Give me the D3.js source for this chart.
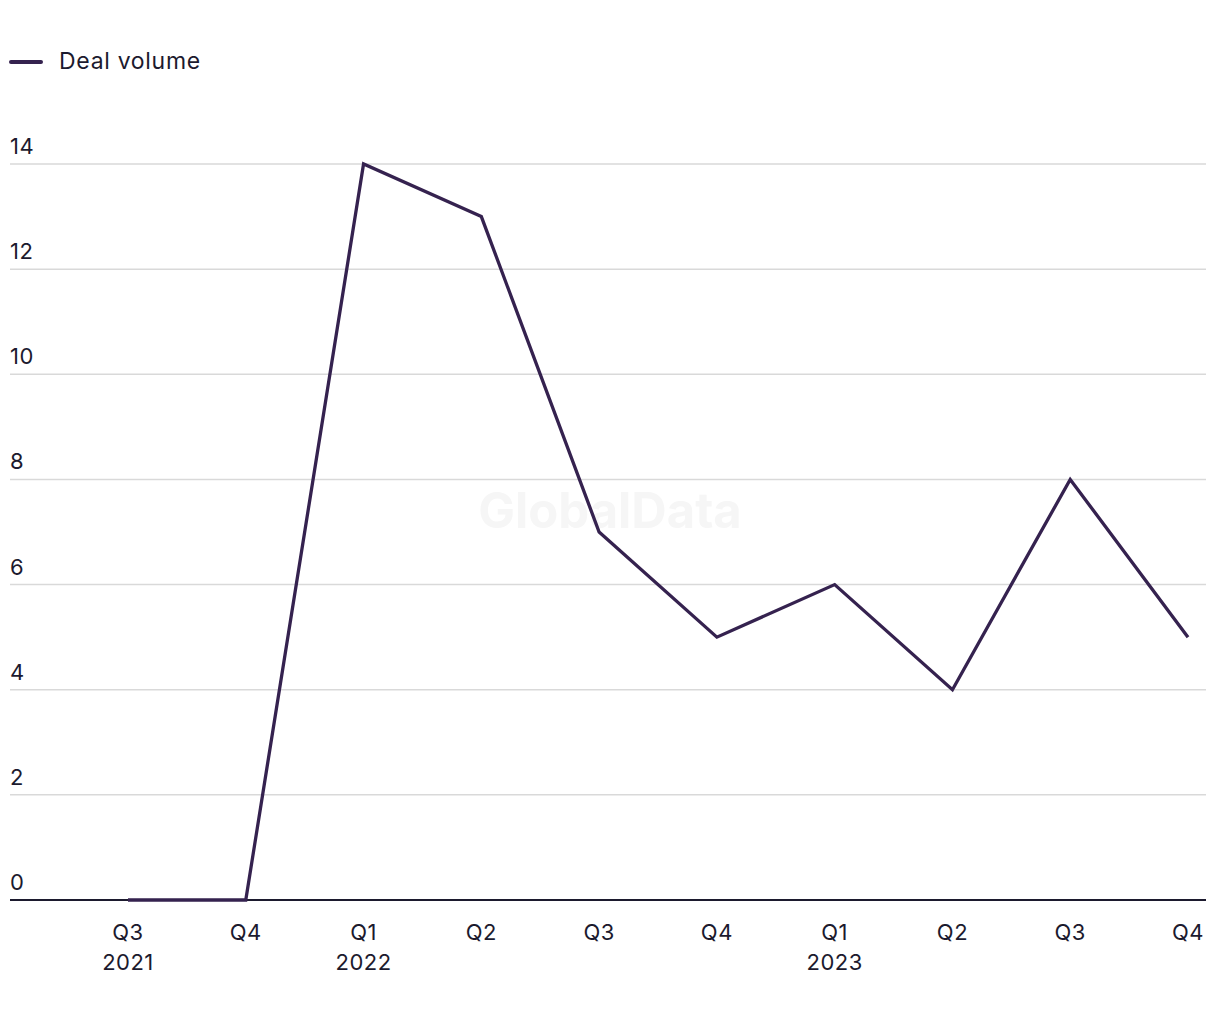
<!DOCTYPE html>
<html><head><meta charset="utf-8">
<script src="https://cdn.jsdelivr.net/npm/d3@7"></script>
<style>body{margin:0;background:#fff}svg{display:block}</style>
</head><body>
<script>
const categories = ["Q3 2021","Q4 2021","Q1 2022","Q2 2022","Q3 2022","Q4 2022","Q1 2023","Q2 2023","Q3 2023","Q4 2023"];
const quarterLabels = ["Q3","Q4","Q1","Q2","Q3","Q4","Q1","Q2","Q3","Q4"];
const yearLabels = ["2021","","2022","","","","2023","","",""];
const dealVolume = [0,0,14,13,7,5,6,4,8,5];
const yTicks = [0,2,4,6,8,10,12,14];

const W=1220,H=1020;
const font = "Inter, 'Noto Sans', sans-serif";
const textColor = "#1c1a2e", lineColor = "#35224f";
const svg = d3.select("body").append("svg").attr("width",W).attr("height",H);

const x = d3.scalePoint().domain(categories).range([128,1188]);
const y = d3.scaleLinear().domain([0,14]).range([900,164]);

// watermark
svg.append("text").attr("x",610).attr("y",528).attr("text-anchor","middle")
  .attr("font-family",font).attr("font-weight",700).attr("font-size",49)
  .attr("fill","#f6f6f6").text("GlobalData");

// grid
const g = svg.append("g");
g.selectAll("line.grid").data(yTicks.filter(d=>d>0)).join("line")
  .attr("x1",10).attr("x2",1206).attr("y1",d=>y(d)).attr("y2",d=>y(d))
  .attr("stroke","#d9d9d9").attr("stroke-width",1.5);
g.selectAll("text.yl").data(yTicks).join("text")
  .attr("x",10).attr("y",d=>y(d)-10).attr("font-family",font).attr("font-size",22)
  .attr("letter-spacing",0.5)
  .attr("fill",textColor).text(d=>d);
// zero axis
g.append("line").attr("x1",10).attr("x2",1206).attr("y1",y(0)).attr("y2",y(0))
  .attr("stroke",textColor).attr("stroke-width",2);

// x labels
const xl = svg.append("g");
xl.selectAll("text.q").data(categories).join("text")
  .attr("x",d=>x(d)).attr("y",940).attr("text-anchor","middle")
  .attr("font-family",font).attr("font-size",22).attr("letter-spacing",0.5).attr("fill",textColor)
  .text((d,i)=>quarterLabels[i]);
xl.selectAll("text.yr").data(categories).join("text")
  .attr("x",d=>x(d)).attr("y",970).attr("text-anchor","middle")
  .attr("font-family",font).attr("font-size",22).attr("letter-spacing",0.5).attr("fill",textColor)
  .text((d,i)=>yearLabels[i]);

// line
const line = d3.line().x((d,i)=>x(categories[i])).y(d=>y(d));
svg.append("path").datum(dealVolume).attr("d",line).attr("fill","none")
  .attr("stroke",lineColor).attr("stroke-width",3.3).attr("stroke-linejoin","miter");

// legend
svg.append("line").attr("x1",11).attr("x2",41).attr("y1",62).attr("y2",62)
  .attr("stroke",lineColor).attr("stroke-width",4).attr("stroke-linecap","round");
svg.append("text").attr("x",59).attr("y",69).attr("font-family",font).attr("font-size",23)
  .attr("letter-spacing",0.7)
  .attr("fill",textColor).text("Deal volume");
</script>
</body></html>
